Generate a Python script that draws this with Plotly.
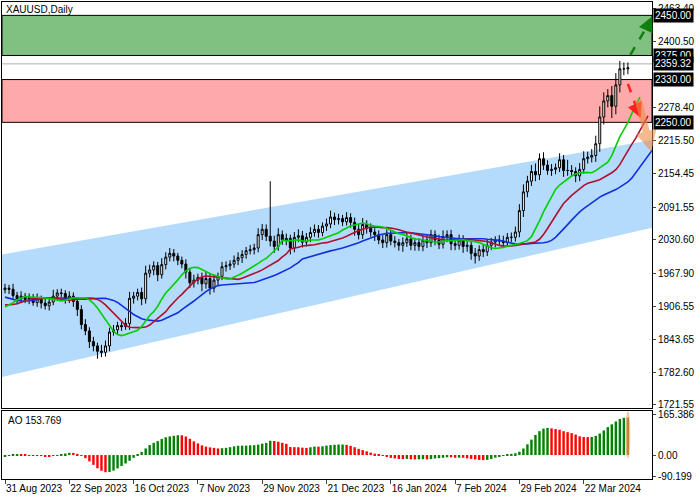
import plotly.graph_objects as go
import numpy as np

# warm-up closes before 31 Aug 2023 (used only for indicators)
history = [1912,1915,1925,1935,1955,1960,1962,1958,1965,1970,1962,1958,1955,1962,1945,1948,1940,1945,1950,1960,
           1945,1935,1932,1938,1925,1915,1918,1910,1905,1900,1895,1890,1892,1890,1895,1898,1915,1918,1925,1937]
closes = [1940,1938,1926,1920,1925,1919,1922,1913,1920,1912,1907,1914,1925,1931,1930,1920,
          1925,1915,1900,1872,1860,1840,1832,1822,1820,1832,
          1858,1862,1870,1868,1874,1921,1925,1932,1920,1968,
          1974,1982,1965,1984,1998,2005,2000,1992,1985,1970,
          1950,1955,1960,1948,1958,1940,1955,1962,1980,1982,
          1985,1992,1997,2003,2010,2012,2015,2040,2050,2037,
          2028,2018,2040,2030,2033,2015,2035,2038,2026,2035,
          2044,2050,2044,2056,2060,2073,2068,2070,2064,2072,
          2063,2050,2040,2059,2052,2045,2040,2030,2025,2040,
          2028,2025,2020,2025,2032,2020,2025,2018,2030,2025,
          2040,2030,2022,2036,2040,2023,2020,2030,2018,2020,
          2005,2000,2012,2008,2020,2026,2030,2028,2025,2035,
          2035,2045,2085,2120,2140,2158,2152,2182,2170,2160,
          2162,2165,2180,2160,2160,2158,2150,2162,2182,2185,
          2188,2210,2260,2290,2300,2280,2320,2350,2350,2352]
wick_up = [8,6,10,7,9,6,8,7,10,6,8,9,12,7,8,6,
           9,7,6,8,10,7,9,6,12,10,
           8,9,7,6,10,12,8,7,9,14,
           10,8,7,12,9,10,8,6,7,9,
           8,10,7,9,12,8,10,7,9,8,
           7,9,10,8,7,9,8,12,10,9,
           103,10,12,8,9,7,10,12,9,8,
           10,9,8,7,10,12,8,9,7,10,
           8,9,10,12,8,9,7,8,9,10,
           8,9,7,10,12,8,9,8,7,10,
           9,8,10,12,8,9,7,10,9,8,
           7,10,8,9,12,8,7,9,10,8,
           9,10,12,14,10,12,15,10,12,9,
           10,8,12,9,20,10,8,12,14,10,
           12,15,20,16,12,18,22,15,12,10]
wick_dn = [7,9,6,10,8,7,9,6,8,10,7,9,6,8,7,9,
           8,10,12,9,8,12,10,14,9,8,
           10,7,9,8,6,12,10,8,12,9,
           8,10,12,7,9,8,10,9,8,12,
           10,9,8,14,9,12,8,10,7,9,
           8,7,9,10,8,7,9,8,10,9,
           10,12,8,9,10,12,8,9,10,8,
           9,8,10,7,9,8,10,9,8,7,
           10,12,9,8,10,9,12,8,10,9,
           8,9,10,12,8,9,10,8,9,10,
           8,10,9,8,10,12,9,8,12,10,
           12,14,9,10,8,9,10,8,9,8,
           9,8,10,12,10,9,12,10,9,8,
           10,9,8,12,10,9,12,10,8,9,
           10,12,15,14,12,22,15,14,12,10]
tick_idx = [0,16,32,48,64,80,96,112,128,144]
tick_lbl = ["31 Aug 2023","22 Sep 2023","16 Oct 2023","7 Nov 2023","29 Nov 2023",
            "21 Dec 2023","16 Jan 2024","7 Feb 2024","29 Feb 2024","22 Mar 2024"]
price_ticks = [2463.40,2400.50,2278.40,2215.50,2154.45,2091.55,2030.60,1967.90,1906.55,1843.65,1782.60,1721.55]
levels = [2450.00,2375.00,2330.00,2250.00]
last_price = 2359.32

n = len(closes)
allc = history + closes
opens_all = [allc[0]] + allc[:-1]
opens = opens_all[len(history):]
highs = [max(o, c) + w for o, c, w in zip(opens, closes, wick_up)]
lows = [min(o, c) - w for o, c, w in zip(opens, closes, wick_dn)]
hh = [max(o, c) + 8 for o, c in zip(opens_all[:len(history)], history)]
hl = [min(o, c) - 8 for o, c in zip(opens_all[:len(history)], history)]
med = np.array([(h + l) / 2 for h, l in zip(hh + highs, hl + lows)])
H = len(history)
idx_all = np.arange(len(med)) - H

def smma(p, k):
    out = np.zeros_like(p); out[0] = p[0]
    for i in range(1, len(p)):
        out[i] = (out[i-1] * (k - 1) + p[i]) / k
    return out

def sma(p, k):
    return np.array([p[max(0, i-k+1):i+1].mean() for i in range(len(p))])

ao = (sma(med, 5) - sma(med, 34))[H:]
ao_col = ["#008000" if i == 0 or ao[i] >= ao[i-1] else "#ff0000" for i in range(n)]
ao_col[-1] = "#8a7a10"

fig = go.Figure()
x = list(range(n))
fig.add_trace(go.Candlestick(x=x, open=opens, high=highs, low=lows, close=closes,
    increasing=dict(line=dict(color="black", width=1), fillcolor="white"),
    decreasing=dict(line=dict(color="black", width=1), fillcolor="black"),
    whiskerwidth=0, showlegend=False, xaxis="x", yaxis="y"))
for k, sh, col in [(13, 8, "#1030e0"), (8, 5, "#b01030"), (5, 3, "#00d000")]:
    s = smma(med, k)
    xs = idx_all + sh
    m = xs >= 0
    fig.add_trace(go.Scatter(x=xs[m], y=s[m], mode="lines", line=dict(color=col, width=1.6),
                             showlegend=False, xaxis="x", yaxis="y"))
fig.add_trace(go.Bar(x=x, y=ao, marker=dict(color=ao_col, line=dict(width=0)), width=0.6,
                     showlegend=False, xaxis="x2", yaxis="y2"))

shapes = [
    dict(type="path", xref="x", yref="y", path="M -0.75 2003 L 161 2217 L 161 2053 L -0.75 1774 Z",
         fillcolor="rgb(180,218,252)", line=dict(width=0), layer="below"),
    dict(type="rect", xref="x", yref="y", x0=-0.75, x1=161, y0=levels[1], y1=levels[0],
         fillcolor="rgb(128,192,128)", line=dict(color="black", width=1), layer="below"),
    dict(type="rect", xref="x", yref="y", x0=-0.75, x1=161, y0=levels[3], y1=levels[2],
         fillcolor="rgb(255,170,170)", line=dict(color="black", width=1), layer="below"),
    dict(type="line", xref="x", yref="y", x0=-0.75, x1=161, y0=last_price, y1=last_price,
         line=dict(color="#b0b0b0", width=1), layer="below"),
    dict(type="line", xref="x", yref="y", x0=155.6, x1=160.3, y0=2376, y1=2436,
         line=dict(color="#108010", width=2.5, dash="dash")),
    dict(type="line", xref="x", yref="y", x0=155, x1=157.6, y0=2322, y1=2268,
         line=dict(color="#ff2020", width=2.5, dash="dash")),
    dict(type="circle", xref="x2", yref="y2", x0=n-1.6, x1=n-0.4, y0=-15, y1=182,
         fillcolor="rgba(240,150,80,0.5)", line=dict(width=0)),
]
F = "Liberation Sans"
ann = [
    dict(x=161, y=2448, ax=159.8, ay=2428, xref="x", yref="y", axref="x", ayref="y", text="",
         showarrow=True, arrowhead=2, arrowsize=1.2, arrowwidth=2.5, arrowcolor="#108010"),
    dict(x=158.2, y=2258, ax=157.4, ay=2272, xref="x", yref="y", axref="x", ayref="y", text="",
         showarrow=True, arrowhead=2, arrowsize=1.2, arrowwidth=2.5, arrowcolor="#ff2020"),
    dict(x=160.8, y=2195, ax=157.5, ay=2295, xref="x", yref="y", axref="x", ayref="y", text="",
         showarrow=True, arrowhead=2, arrowsize=0.6, arrowwidth=7, arrowcolor="rgba(240,140,70,0.6)"),
    dict(x=0.003, y=0.999, xref="paper", yref="paper", text="XAUUSD,Daily", showarrow=False,
         xanchor="left", yanchor="top", font=dict(size=10, color="black", family=F)),
    dict(x=0.006, y=0.138, xref="paper", yref="paper", text="AO 153.769", showarrow=False,
         xanchor="left", yanchor="top", font=dict(size=10, color="black", family=F)),
]
for v in levels + [last_price]:
    ann.append(dict(x=1.0, xref="paper", y=v, yref="y", text="%.2f" % v, showarrow=False,
                    xanchor="left", xshift=1, bgcolor="black", font=dict(color="white", size=10, family=F),
                    borderpad=1))

ax_common = dict(automargin=False, showgrid=False, zeroline=False, showline=True, mirror=True,
                 linecolor="black", tickfont=dict(size=10, family=F))
fig.update_layout(
    width=700, height=500, margin=dict(l=2, r=48, t=2, b=21),
    paper_bgcolor="white", plot_bgcolor="white",
    font=dict(family=F, size=10, color="black"),
    shapes=shapes, annotations=ann, bargap=0.3,
    xaxis=dict(domain=[0, 1], range=[-0.75, 161], anchor="y", showticklabels=False,
               rangeslider=dict(visible=False), ticks="", **ax_common),
    yaxis=dict(domain=[0.149, 1], range=[1716, 2475], side="right", tickvals=price_ticks,
               ticktext=["%.2f" % v for v in price_ticks], ticks="outside", ticklen=3, **ax_common),
    xaxis2=dict(domain=[0, 1], range=[-0.75, 161], anchor="y2", tickvals=tick_idx, ticktext=tick_lbl,
                ticks="outside", ticklen=4, tickangle=0, ticklabelposition="outside right", **ax_common),
    yaxis2=dict(domain=[0, 0.1426], range=[-99, 182], side="right", anchor="x2",
                tickvals=[165.386, 0, -90.199], ticktext=["165.386", "0.00", "-90.199"],
                ticks="outside", ticklen=3, **ax_common),
)
fig.write_html("out.html", config={"displayModeBar": False},
               post_script="document.body.style.margin='0';")
